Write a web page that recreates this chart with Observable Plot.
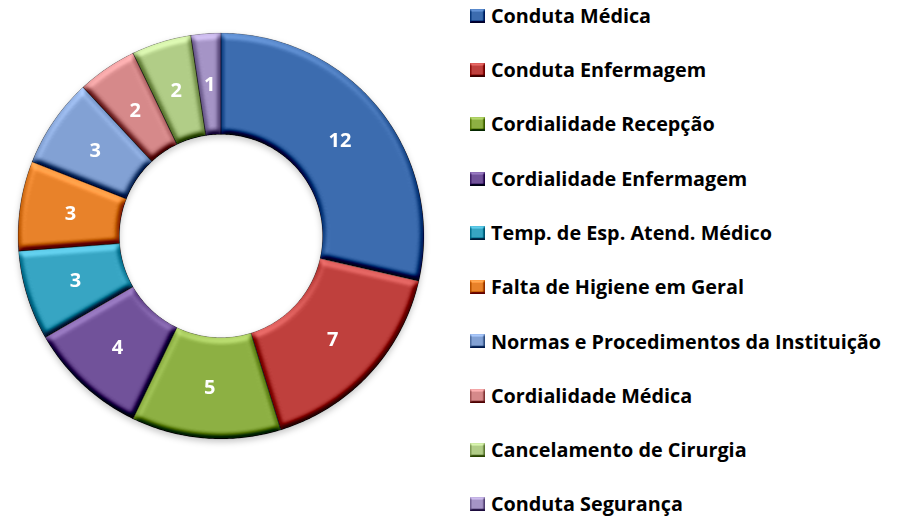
<!DOCTYPE html>
<html><head><meta charset="utf-8">
<script src="https://cdn.jsdelivr.net/npm/d3@7"></script>
<script src="https://cdn.jsdelivr.net/npm/@observablehq/plot@0.6"></script>
<style>
body{margin:0;background:#fff;}
#wrap{position:relative;width:902px;height:519px;overflow:hidden;background:#fff;}
#chart{position:absolute;left:0;top:0;}
#chart svg{filter:drop-shadow(0px 3px 3px rgba(0,0,0,0.22));}
#chart svg g[aria-label="line"] path{filter:url(#bevel);}
#legend{position:absolute;left:470px;top:-11.5px;}
.lg-swatches{font-family:"Open Sans",sans-serif;font-size:19.8px;font-weight:700;color:#000;margin:0;}
.lg-swatches-columns .lg-swatch{height:54.3px;padding:0;display:flex;align-items:center;}
.lg-swatches-columns .lg-swatch-label{line-height:1.2;overflow:visible;}
.lg-swatch > svg{margin-right:6px;}
.lg-swatch > svg rect{filter:url(#bevelSmall);}
</style></head>
<body>
<svg width="0" height="0" style="position:absolute">
  <defs>
    <filter id="bevel" x="-5%" y="-5%" width="110%" height="110%" color-interpolation-filters="sRGB">
      <feGaussianBlur in="SourceAlpha" stdDeviation="3" result="blur"/>
      <feDiffuseLighting in="blur" surfaceScale="6" diffuseConstant="1" lighting-color="#ffffff" result="diff">
        <feDistantLight azimuth="260" elevation="50"/>
      </feDiffuseLighting>
      <feComposite in="SourceGraphic" in2="diff" operator="arithmetic" k1="0" k2="1" k3="0.75" k4="-0.5745" result="lit"/>
      <feComposite in="lit" in2="SourceAlpha" operator="in"/>
    </filter>
    <filter id="bevelSmall" x="-10%" y="-10%" width="120%" height="120%" color-interpolation-filters="sRGB">
      <feGaussianBlur in="SourceAlpha" stdDeviation="1.2" result="blur"/>
      <feDiffuseLighting in="blur" surfaceScale="3" diffuseConstant="1" lighting-color="#ffffff" result="diff">
        <feDistantLight azimuth="260" elevation="50"/>
      </feDiffuseLighting>
      <feComposite in="SourceGraphic" in2="diff" operator="arithmetic" k1="0" k2="1" k3="0.7" k4="-0.536" result="lit"/>
      <feComposite in="lit" in2="SourceAlpha" operator="in"/>
    </filter>
  </defs>
</svg>
<div id="wrap"><div id="chart"></div><div id="legend"></div></div>
<script>
const categories = [
  "Conduta Médica",
  "Conduta Enfermagem",
  "Cordialidade Recepção",
  "Cordialidade Enfermagem",
  "Temp. de Esp. Atend. Médico",
  "Falta de Higiene em Geral",
  "Normas e Procedimentos da Instituição",
  "Cordialidade Médica",
  "Cancelamento de Cirurgia",
  "Conduta Segurança"
];
const values = [12, 7, 5, 4, 3, 3, 3, 2, 2, 1];
const colors = ["#3c6caf", "#bf403d", "#8db043", "#71529a", "#37a5c3", "#e8822a", "#82a1d4", "#d6898a", "#b1cd87", "#a594c6"];

const rows = categories.map((c, i) => ({cat: c, value: values[i]}));
const arcs = d3.pie().sort(null).value(d => d.value)(rows);

const PX = 203;          // outer radius in pixels
const R = 1, R0 = 0.5;   // outer/inner radius in data units
const W = 450, H = 519, CX = 220.5, CY = 235.5;

const pts = [];
for (const a of arcs) {
  const n = Math.max(8, Math.ceil((a.endAngle - a.startAngle) / 0.01));
  const cat = a.data.cat;
  for (let k = 0; k <= n; k++) {
    const t = a.startAngle + (a.endAngle - a.startAngle) * k / n;
    pts.push({cat, x: R * Math.sin(t), y: R * Math.cos(t)});
  }
  for (let k = n; k >= 0; k--) {
    const t = a.startAngle + (a.endAngle - a.startAngle) * k / n;
    pts.push({cat, x: R0 * Math.sin(t), y: R0 * Math.cos(t)});
  }
  pts.push({cat, x: R * Math.sin(a.startAngle), y: R * Math.cos(a.startAngle)});
}

const labels = arcs.map(a => {
  const m = (a.startAngle + a.endAngle) / 2, rm = (R + R0) / 2;
  return {x: rm * Math.sin(m), y: rm * Math.cos(m), v: a.data.value};
});

const chart = Plot.plot({
  width: W, height: H, margin: 0,
  style: {background: "transparent", overflow: "visible"},
  x: {domain: [-CX / PX, (W - CX) / PX], axis: null},
  y: {domain: [-(H - CY) / PX, CY / PX], axis: null},
  color: {domain: categories, range: colors},
  marks: [
    Plot.line(pts, {x: "x", y: "y", z: "cat", fill: "cat", stroke: "#000", strokeOpacity: 0.35, strokeWidth: 1, strokeLinejoin: "round"}),
    Plot.text(labels, {x: "x", y: "y", text: "v", fill: "white", fontSize: 20, fontWeight: "bold", fontFamily: "'Open Sans', sans-serif"})
  ]
});
document.getElementById("chart").appendChild(chart);

const legend = Plot.legend({
  color: {domain: categories, range: colors},
  legend: "swatches", columns: 1, swatchWidth: 15, swatchHeight: 14, className: "lg"
});
document.getElementById("legend").appendChild(legend);
</script>
</body></html>
